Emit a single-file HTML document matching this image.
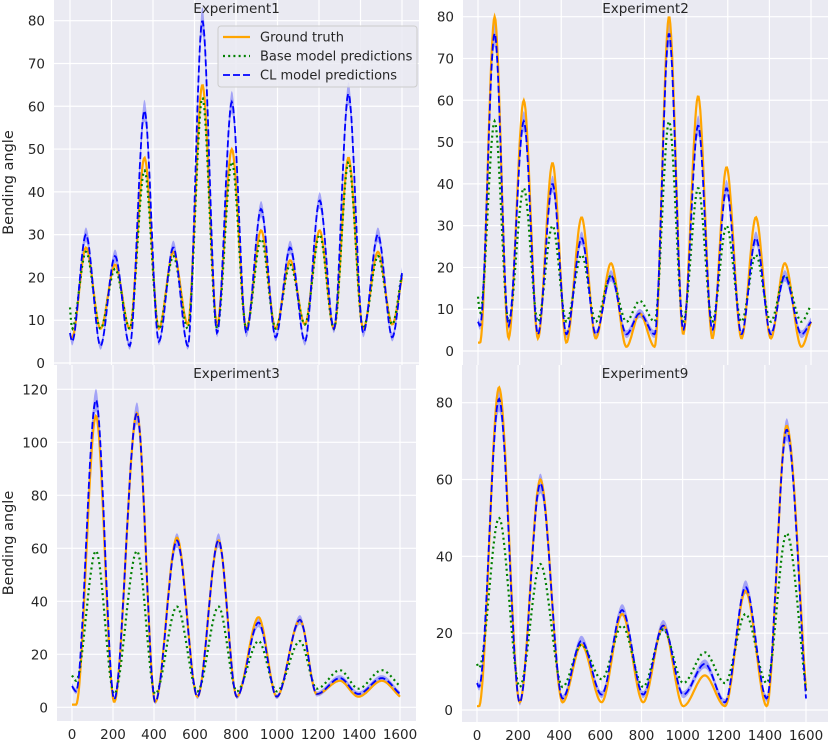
<!DOCTYPE html>
<html><head><meta charset="utf-8">
<style>
html,body{margin:0;padding:0;background:#fff;}
svg{display:block;font-family:"DejaVu Sans","Liberation Sans",sans-serif;}
</style></head>
<body>
<svg id="fig" width="828" height="744" viewBox="0 0 828 744"></svg>
<script>
// ---- data (keypoint times and values) ----
const exp1Times = [0,10,77,147,217,288,359,428,498,568,638,709,780,850,921,991,1061,1132,1203,1272,1342,1413,1484,1553,1600];
const exp1Truth = [6,6,27,8,23,8,48,8,26,9,65,9,50,8,31,8,24,9,31,8,48,8,26,9,20];
const exp1Base  = [13,8,26,8,22,8,45,8,25,8,62,8,47,8,29,8,23,9,30,8,47,8,25,9,21];
const exp1CL    = [7,5,30,4,25,4,59,5,27,4,80,7,61,7,36,6,27,5,38,8,63,7,30,6,21];

const exp2Times = [0,10,80,147,220,288,358,425,498,566,639,713,777,849,918,986,1058,1126,1194,1266,1335,1407,1474,1554,1600];
const exp2Truth = [2,2,80,3,60,3,45,2,32,3,21,1,9,1,80,4,61,3,44,3,32,3,21,1,7];
const exp2Base  = [13,9,55,7,39,7,30,7,23,7,18,7,12,7,55,7,39,7,30,7,23,7,18,7,11];
const exp2CL    = [7,6,76,6,55,4,40,4,27,4,18,4,9,4,76,5,54,5,39,4,27,4,18,4,7];

const exp3Times = [0,20,117,206,317,406,512,612,715,804,910,999,1112,1194,1307,1397,1511,1600];
const exp3Truth = [1,1,110,2,111,2,64,4,63,4,34,4,33,5,10,4,10,4];
const exp3Base  = [12,10,59,5,59,5,38,6,38,6,25,6,25,7,14,7,14,8];
const exp3CL    = [8,6,116,3,111,2,63,4,63,4,32,4,33,5,11,5,11,5];

const exp9Times = [0,10,107,208,308,416,508,606,706,808,906,1003,1108,1206,1306,1409,1506,1600];
const exp9Truth = [1,1,84,2,60,2,17,2,25,2,22,1,9,1,31,1,74,5];
const exp9Base  = [12,11,50,6,38,6,17,8,22,6,21,7,15,7,25,7,46,5];
const exp9CL    = [7,6,81,2,59,3,18,4,26,4,22,4,12,2,32,3,73,3];

const panels = [
  {name:'experiment1', title:'Experiment1', left:54, right:419, top:0, bottom:365, x0:70, x1:402, y0:363, yMaxV:80, yMaxPx:20.7, yTicks:[0,10,20,30,40,50,60,70,80], xLabels:false, times:exp1Times, truth:exp1Truth, base:exp1Base, cl:exp1CL, ylabel:true},
  {name:'experiment2', title:'Experiment2', left:463, right:828, top:0, bottom:365, x0:478, x1:811, y0:351, yMaxV:80, yMaxPx:16.7, yTicks:[0,10,20,30,40,50,60,70,80], xLabels:false, times:exp2Times, truth:exp2Truth, base:exp2Base, cl:exp2CL, ylabel:false},
  {name:'experiment3', title:'Experiment3', left:57, right:416, top:365, bottom:721, x0:72, x1:400, y0:707.3, yMaxV:120, yMaxPx:389.3, yTicks:[0,20,40,60,80,100,120], xLabels:true, times:exp3Times, truth:exp3Truth, base:exp3Base, cl:exp3CL, ylabel:true},
  {name:'experiment9', title:'Experiment9', left:462, right:828, top:365, bottom:722, x0:477, x1:806, y0:710, yMaxV:80, yMaxPx:402.7, yTicks:[0,20,40,60,80], xLabels:true, times:exp9Times, truth:exp9Truth, base:exp9Base, cl:exp9CL, ylabel:false}
];
const xTicks = [0,200,400,600,800,1000,1200,1400,1600];

const NS='http://www.w3.org/2000/svg';
const fig=document.getElementById('fig');
function mk(tag,attrs,parent){const e=document.createElementNS(NS,tag);for(const k in attrs)e.setAttribute(k,attrs[k]);(parent||fig).appendChild(e);return e;}

function monotone(xs,ys){
  const n=xs.length,d=[],m=[];
  for(let i=0;i<n-1;i++)d.push((ys[i+1]-ys[i])/(xs[i+1]-xs[i]));
  m[0]=d[0];m[n-1]=d[n-2];
  for(let i=1;i<n-1;i++){m[i]=(d[i-1]*d[i]<=0)?0:(d[i-1]+d[i])/2;}
  for(let i=0;i<n-1;i++){if(d[i]===0){m[i]=0;m[i+1]=0;continue;}
    const a=m[i]/d[i],b=m[i+1]/d[i],s=a*a+b*b;if(s>9){const t=3/Math.sqrt(s);m[i]=t*a*d[i];m[i+1]=t*b*d[i];}}
  return function(x){let i=0;while(i<n-2&&x>xs[i+1])i++;
    const h=xs[i+1]-xs[i],t=(x-xs[i])/h,t2=t*t,t3=t2*t;
    return (2*t3-3*t2+1)*ys[i]+(t3-2*t2+t)*h*m[i]+(-2*t3+3*t2)*ys[i+1]+(t3-t2)*h*m[i+1];};
}

panels.forEach(p=>{
  const g=mk('g',{});
  
  
  const sx=v=>p.x0+(p.x1-p.x0)*v/1600;
  const sy=v=>p.y0+(p.yMaxPx-p.y0)*v/p.yMaxV;
  const bg=mk('rect',{x:p.left,y:p.top,width:p.right-p.left,height:p.bottom-p.top,fill:'#eaeaf2'},g);
  
  
  xTicks.forEach(t=>{
    const l=mk('line',{x1:sx(t),x2:sx(t),y1:p.top,y2:p.bottom,stroke:'#fff','stroke-width':1.2},g);
    
    
    if(p.xLabels){
      const tx=mk('text',{x:sx(t),y:p.bottom+18,'text-anchor':'middle','font-size':13.5,fill:'#262626'},g);
      tx.textContent=t;
      
      
    }
  });
  p.yTicks.forEach(t=>{
    const l=mk('line',{x1:p.left,x2:p.right,y1:sy(t),y2:sy(t),stroke:'#fff','stroke-width':1.2},g);
    
    
    const tx=mk('text',{x:p.left-9,y:sy(t)+5,'text-anchor':'end','font-size':13.5,fill:'#262626'},g);
    tx.textContent=t;
    
    
  });
  const fT=monotone(p.times,p.truth),fB=monotone(p.times,p.base),fC=monotone(p.times,p.cl);
  const xs=[];for(let x=0;x<=1600;x+=4)xs.push(x);
  let up=[],lo=[];
  xs.forEach(x=>{const v=fC(x),w=0.8+0.03*v;up.push(sx(x).toFixed(1)+','+sy(v+w).toFixed(1));lo.unshift(sx(x).toFixed(1)+','+sy(Math.max(0,v-w)).toFixed(1));});
  const band=mk('polygon',{points:up.concat(lo).join(' '),fill:'#0000ff','fill-opacity':0.3,stroke:'none'},g);
  
  
  const path=f=>'M'+xs.map(x=>sx(x).toFixed(1)+','+sy(f(x)).toFixed(1)).join('L');
  const lt=mk('path',{d:path(fT),fill:'none',stroke:'#ffa500','stroke-width':2.2},g);
  
  
  const lb=mk('path',{d:path(fB),fill:'none',stroke:'#008000','stroke-width':2.2,'stroke-dasharray':'2,3.2'},g);
  
  
  const lc=mk('path',{d:path(fC),fill:'none',stroke:'#0000ff','stroke-width':1.8,'stroke-dasharray':'7,3'},g);
  
  
  const ti=mk('text',{x:(p.left+p.right)/2,y:p.top+13,'text-anchor':'middle','font-size':13.5,fill:'#262626'},g);
  ti.textContent=p.title;
  
  
  if(p.ylabel){
    const cy=(p.top+p.bottom)/2;
    const yl=mk('text',{x:13,y:cy,'text-anchor':'middle','font-size':14.5,fill:'#262626',transform:'rotate(-90 13 '+cy+')'},g);
    yl.textContent='Bending angle';
    
    
  }
});

const lg=mk('g',{});


mk('rect',{x:218,y:26,width:199,height:61,rx:3,fill:'#eaeaf2','fill-opacity':0.85,stroke:'#cccccc'},lg);
const legItems=[['Ground truth','#ffa500','',2.2],['Base model predictions','#008000','2,3.2',2.2],['CL model predictions','#0000ff','7,3',1.8]];
legItems.forEach((it,i)=>{
  const y=37+i*19;
  const ln=mk('line',{x1:223,x2:250,y1:y,y2:y,stroke:it[1],'stroke-width':it[3],'stroke-dasharray':it[2]||'none'},lg);
  
  
  const t=mk('text',{x:260,y:y+4.5,'font-size':13,fill:'#262626'},lg);
  t.textContent=it[0];
  
  
});
</script>
</body></html>
